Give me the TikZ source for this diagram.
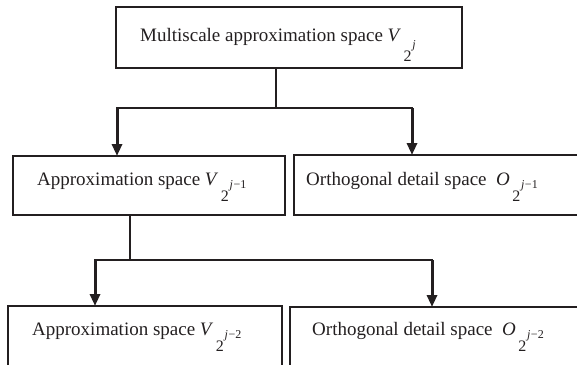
\documentclass[tikz,border=0pt]{standalone}
\usepackage{fontspec}
\setmainfont{Liberation Serif}
\usetikzlibrary{arrows.meta}
\definecolor{ink}{HTML}{231F20}
% space symbol: italic letter with subscript 2 and superscript exponent
\newcommand{\spacesym}[3][16pt]{\textit{#2}\kern2.5pt\raisebox{-#1}{\fontsize{16}{16}\selectfont 2\kern0.8pt\raisebox{12.5pt}{\fontsize{12}{12}\selectfont\textit{j}\kern0.5pt#3}}}
\begin{document}
\begin{tikzpicture}[x=1pt,y=-1pt,
  box/.style={draw=ink,line width=2pt,inner sep=0pt,outer sep=0pt,anchor=north west},
  txt/.style={anchor=base west,inner sep=0pt,text=ink,font=\fontsize{19}{19}\selectfont},
  stem/.style={draw=ink,line width=2pt},
  bar/.style={draw=ink,line width=2.7pt,line cap=rect},
  arr/.style={draw=ink,line width=3pt,-{Triangle[width=10pt,length=12pt]}}]
\useasboundingbox (0,0) rectangle (577,364);
\clip (0,0) rectangle (577,364);
% boxes
\node[box,minimum width=346pt,minimum height=61pt] (top) at (116,7) {};
\node[box,minimum width=272pt,minimum height=59pt] (ml) at (13,156) {};
\node[box,minimum width=320pt,minimum height=60pt] (mr) at (294,155) {};
\node[box,minimum width=274pt,minimum height=90pt] (bl) at (8,306) {};
\node[box,minimum width=320pt,minimum height=90pt] (br) at (290,307) {};
% labels
\node[txt] (toplab) at (140,41) {Multiscale approximation space \spacesym[20pt]{V}{}};
\node[txt] (mllab) at (37,185) {Approximation space \spacesym{V}{−1}};
\node[txt] (mrlab) at (306,185) {Orthogonal detail space\ \ \spacesym{O}{−1}};
\node[txt] (bllab) at (32,335) {Approximation space \spacesym{V}{−2}};
\node[txt] (brlab) at (312,335) {Orthogonal detail space\ \ \spacesym{O}{−2}};
% first split
\coordinate (j1) at (117,108);
\coordinate (j2) at (412,108);
\draw[stem] ([xshift=-13pt]top.south) -- ++(0,40);
\draw[bar] (j1) -- (j2);
\draw[arr] (j1) -- (j1 |- ml.north);
\draw[arr] (j2) -- (j2 |- mr.north);
% second split
\coordinate (k1) at (95,260);
\coordinate (k2) at (432,260);
\draw[stem] ([xshift=-19pt]ml.south) -- ++(0,45);
\draw[bar] (k1) -- (k2);
\draw[arr] (k1) -- (k1 |- bl.north);
\draw[arr] (k2) -- (k2 |- br.north);
\end{tikzpicture}
\end{document}
